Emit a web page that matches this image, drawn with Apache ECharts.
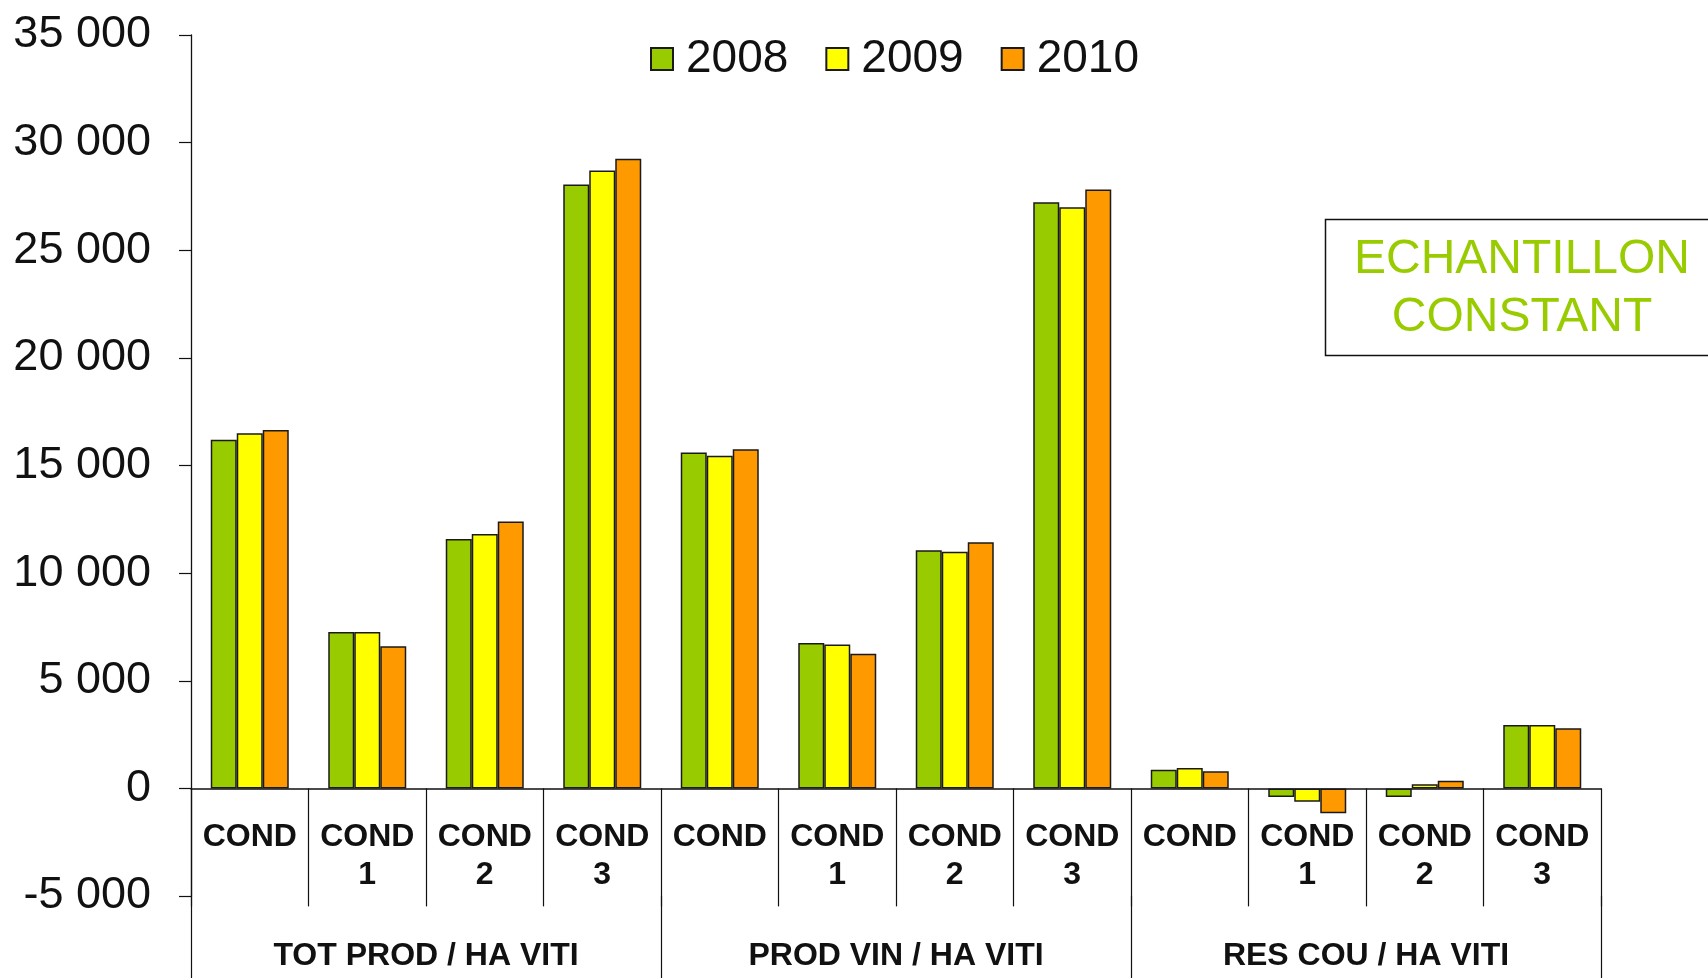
<!DOCTYPE html>
<html>
<head>
<meta charset="utf-8">
<script src="https://cdn.jsdelivr.net/npm/echarts@6/dist/echarts.min.js"></script>
<style>
  html, body { margin: 0; padding: 0; background: #fff; }
  #chart { width: 1708px; height: 978px; }
</style>
</head>
<body>
<div id="chart"></div>
<script>
// Sub-categories (one bar cluster each) and the groups they belong to
const categories = [
  'COND', 'COND\n1', 'COND\n2', 'COND\n3',
  'COND', 'COND\n1', 'COND\n2', 'COND\n3',
  'COND', 'COND\n1', 'COND\n2', 'COND\n3'
];
const groups = ['TOT PROD / HA VITI', 'PROD VIN / HA VITI', 'RES COU / HA VITI'];
const years = ['2008', '2009', '2010'];

// Values per year, in category order
const values2008 = [16200, 7270, 11590, 28050, 15600, 6750, 11060, 27230, 870, -400, -400, 2950];
const values2009 = [16500, 7270, 11820, 28700, 15450, 6680, 10990, 27000, 950, -620, 190, 2950];
const values2010 = [16650, 6600, 12400, 29250, 15750, 6250, 11430, 27820, 790, -1160, 360, 2790];

// Value axis ticks
const yMin = -5000, yMax = 35000, yStep = 5000;

const seriesValues = [values2008, values2009, values2010];
const colors = ['#99CC00', '#FFFF00', '#FF9900'];
const FONT = "'Liberation Sans', Arial, sans-serif";

const chart = echarts.init(document.getElementById('chart'));

const fmt = v => {
  const s = Math.abs(v).toString().replace(/\B(?=(\d{3})+(?!\d))/g, ' ');
  return (v < 0 ? '-' : '') + s;
};

// The category axes sit on the zero line; their labels are offset from the grid's bottom edge.
chart.setOption({
  backgroundColor: '#ffffff',
  animation: false,
  color: colors,
  legend: {
    data: years,
    left: 645,
    top: 31,
    itemWidth: 22,
    itemHeight: 22,
    itemGap: 37,
    icon: 'rect',
    textStyle: {
      fontFamily: FONT,
      fontSize: 46,
      lineHeight: 46,
      color: '#111',
      padding: [0, 0, 0, 8]
    }
  },
  grid: {
    left: 191,
    right: 107,
    top: 35,
    bottom: 82,
    containLabel: false,
    outerBoundsMode: 'none'
  },
  xAxis: [
    {
      type: 'category',
      data: categories,
      position: 'bottom',
      axisLine: { onZero: true, lineStyle: { color: '#111', width: 1.5 } },
      axisTick: { show: true, length: 118, lineStyle: { color: '#111', width: 1.2 } },
      axisLabel: {
        interval: 0,
        margin: -78,
        fontFamily: FONT,
        fontSize: 32,
        fontWeight: 'bold',
        lineHeight: 38,
        color: '#111'
      },
      splitLine: { show: false }
    },
    {
      type: 'category',
      data: groups,
      position: 'bottom',
      axisLine: { show: false, onZero: true },
      axisTick: { show: true, length: 200, lineStyle: { color: '#111', width: 1.2 } },
      axisLabel: {
        interval: 0,
        margin: 41,
        fontFamily: FONT,
        fontSize: 32,
        fontWeight: 'bold',
        lineHeight: 38,
        color: '#111'
      },
      splitLine: { show: false }
    }
  ],
  yAxis: {
    type: 'value',
    min: yMin,
    max: yMax,
    interval: yStep,
    axisLine: { show: true, lineStyle: { color: '#111', width: 1.3 } },
    axisTick: { show: true, length: 12, lineStyle: { color: '#111', width: 1.2 } },
    axisLabel: {
      margin: 40,
      fontFamily: FONT,
      fontSize: 45,
      color: '#111',
      formatter: fmt
    },
    splitLine: { show: false }
  },
  series: years.map((name, i) => ({
    name: name,
    type: 'bar',
    xAxisIndex: 0,
    data: seriesValues[i],
    barWidth: 26,
    barGap: '0%',
    itemStyle: {
      color: colors[i],
      borderColor: '#1a1a1a',
      borderWidth: 1.5
    }
  })),
  graphic: [
    {
      type: 'rect',
      shape: { x: 1325.5, y: 219.5, width: 392, height: 136 },
      style: { fill: '#ffffff', stroke: '#111', lineWidth: 1.5 },
      z: 10
    },
    {
      type: 'text',
      x: 1522,
      y: 289,
      style: {
        text: 'ECHANTILLON\nCONSTANT',
        fontFamily: FONT,
        fontSize: 48,
        lineHeight: 58,
        fill: '#99CC00',
        align: 'center',
        verticalAlign: 'middle'
      },
      z: 11
    }
  ]
});
</script>
</body>
</html>
